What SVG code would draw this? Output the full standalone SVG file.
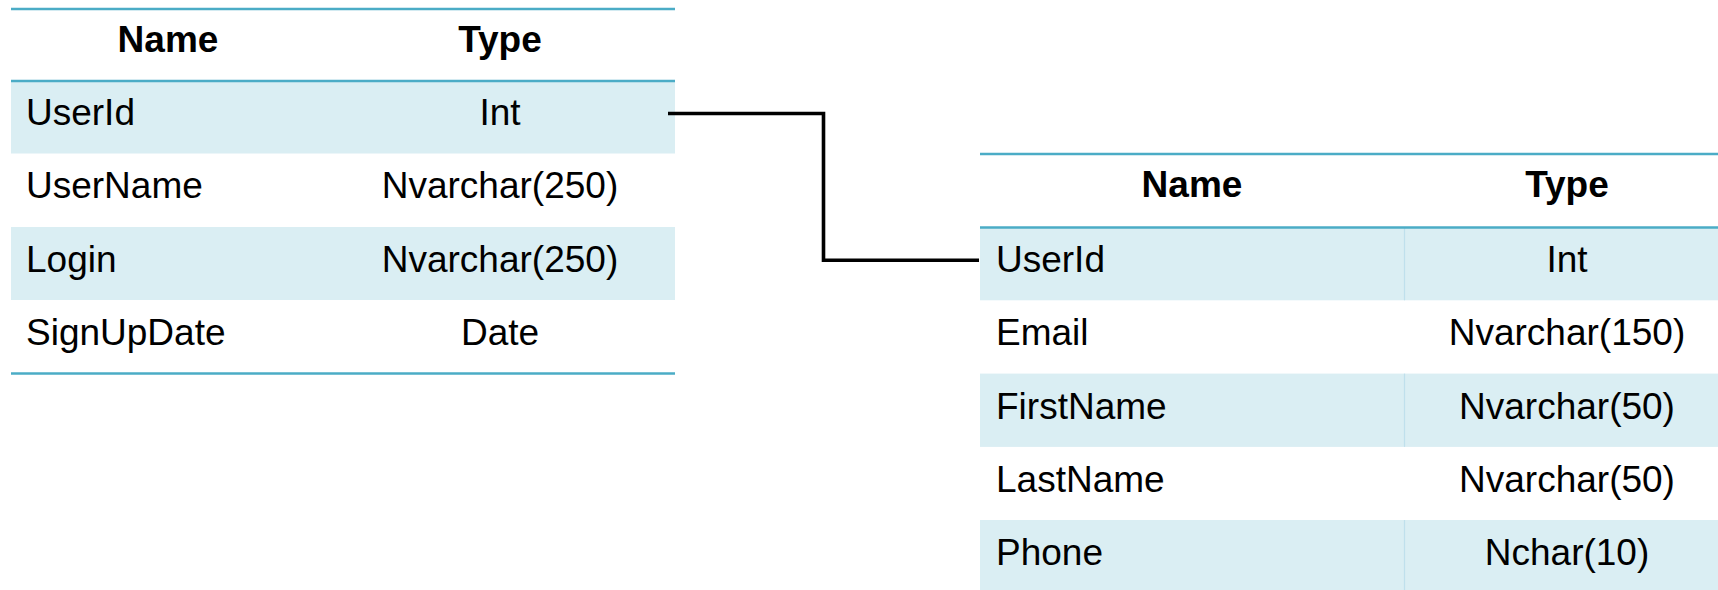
<svg xmlns="http://www.w3.org/2000/svg" width="1718" height="590" viewBox="0 0 1718 590">
  <style>
    .band { fill: #DAEEF3; }
    .rule { stroke: #4BACC6; stroke-width: 2.5; fill: none; }
    .divider { stroke: #BFE0EC; stroke-width: 1.2; }
    .head { font-family: "Liberation Sans", Arial, sans-serif; font-size: 37px; font-weight: bold; fill: #000; text-anchor: middle; }
    .cell { font-family: "Liberation Sans", Arial, sans-serif; font-size: 37px; fill: #000; }
    .mid { text-anchor: middle; }
    .link { stroke: #000; stroke-width: 3.6; fill: none; }
  </style>
  <rect width="1718" height="590" fill="#FFFFFF"/>

  <!-- Users table -->
  <g id="users-table">
    <rect class="band" x="11" y="80.5" width="664" height="73"/>
    <rect class="band" x="11" y="227" width="664" height="73"/>
    <line class="rule" x1="11" y1="9" x2="675" y2="9"/>
    <line class="rule" x1="11" y1="81" x2="675" y2="81"/>
    <line class="rule" x1="11" y1="373.5" x2="675" y2="373.5"/>
    <text class="head" x="168" y="52">Name</text>
    <text class="head" x="500" y="52">Type</text>
    <text class="cell" x="26" y="125">UserId</text>
    <text class="cell mid" x="500" y="125">Int</text>
    <text class="cell" x="26" y="198">UserName</text>
    <text class="cell mid" x="500" y="198">Nvarchar(250)</text>
    <text class="cell" x="26" y="272">Login</text>
    <text class="cell mid" x="500" y="272">Nvarchar(250)</text>
    <text class="cell" x="26" y="345">SignUpDate</text>
    <text class="cell mid" x="500" y="345">Date</text>
  </g>

  <!-- Profile table -->
  <g id="profile-table">
    <rect class="band" x="980" y="227" width="750" height="73.3"/>
    <rect class="band" x="980" y="373.6" width="750" height="73.3"/>
    <rect class="band" x="980" y="520" width="750" height="73.3"/>
    <line class="divider" x1="1404.5" y1="227" x2="1404.5" y2="300.3"/>
    <line class="divider" x1="1404.5" y1="373.6" x2="1404.5" y2="446.9"/>
    <line class="divider" x1="1404.5" y1="520" x2="1404.5" y2="593"/>
    <line class="rule" x1="980" y1="154" x2="1718" y2="154"/>
    <line class="rule" x1="980" y1="227.5" x2="1718" y2="227.5"/>
    <text class="head" x="1192" y="197">Name</text>
    <text class="head" x="1567" y="197">Type</text>
    <text class="cell" x="996" y="272">UserId</text>
    <text class="cell mid" x="1567" y="272">Int</text>
    <text class="cell" x="996" y="345">Email</text>
    <text class="cell mid" x="1567" y="345">Nvarchar(150)</text>
    <text class="cell" x="996" y="418.5">FirstName</text>
    <text class="cell mid" x="1567" y="418.5">Nvarchar(50)</text>
    <text class="cell" x="996" y="491.5">LastName</text>
    <text class="cell mid" x="1567" y="491.5">Nvarchar(50)</text>
    <text class="cell" x="996" y="565">Phone</text>
    <text class="cell mid" x="1567" y="565">Nchar(10)</text>
  </g>

  <!-- Relationship between the two UserId keys -->
  <g id="connectors">
    <path class="link" d="M 668 113.5 H 823.5 V 260.3 H 979"/>
  </g>
</svg>
